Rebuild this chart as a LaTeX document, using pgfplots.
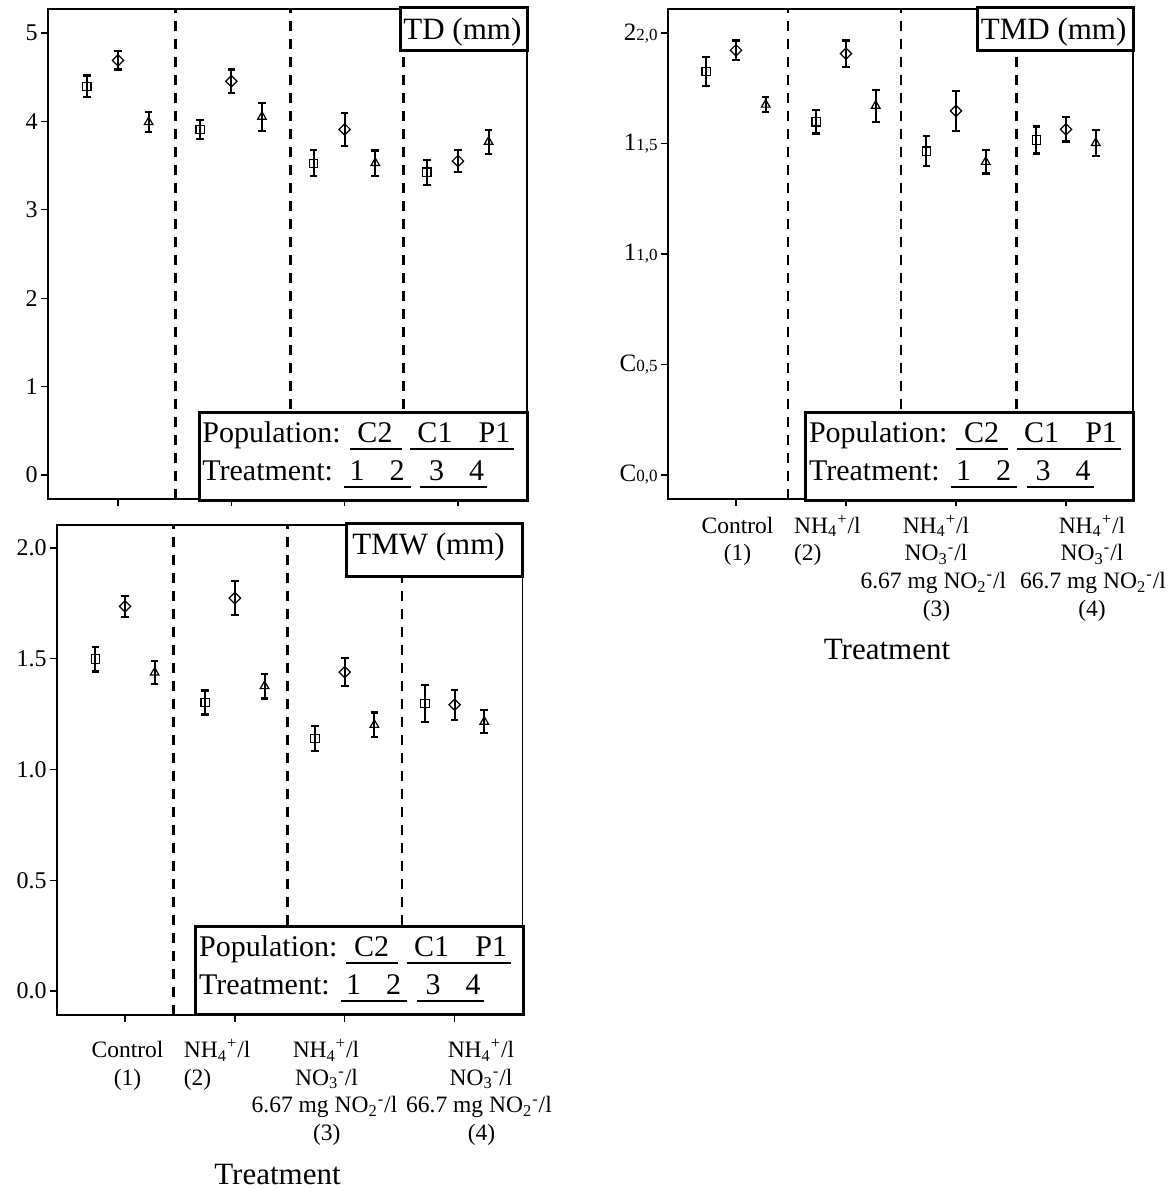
\documentclass[border=0pt]{standalone}
\usepackage{pgfplots}
\pgfplotsset{compat=1.18}
\usepackage{fontspec}
\setmainfont{Liberation Serif}

\newcommand{\chem}[3]{#1\textsubscript{#2}\textsuperscript{#3}}
\newcommand{\legfont}{\fontsize{15}{18}\selectfont}
\newcommand{\titfont}{\fontsize{15.5}{18}\selectfont}
\newcommand{\catfont}{\fontsize{11.75}{13.85}\selectfont}
\newcommand{\tl}[2]{{\fontsize{12.5}{12}\selectfont #1}{\fontsize{8.5}{8.5}\selectfont #2}}

\tikzset{vsep/.style={line width=1.35pt, dash pattern=on 5pt off 4pt}}
\pgfplotsset{
  panel/.style={scale only axis, anchor=south west,
    axis line style={line width=0.7pt},
    every tick/.style={black, line width=0.7pt},
    tick align=outside, tick pos=left, major tick length=3.5pt,
    xtick={1,2,3,4}, xticklabels={},
    yticklabel style={font=\fontsize{12}{12}\selectfont, inner sep=1.5pt}},
  ser/.style={black, only marks, mark options={solid, line width=0.6pt, fill=none, #1},
    error bars/.cd, y dir=both, y explicit,
    error bar style={line width=1pt, black},
    error mark options={rotate=90, line width=1.1pt, mark size=1.9pt, black}},
  ser/.default={},
}

\newcommand{\legbox}[2]{%
  \draw[line width=1.5pt, fill=white] (#1,#2) rectangle ({#1+328},{#2+88});
  \node[anchor=base west, inner sep=0pt, font=\legfont] at ({#1+3},{#2+30}) {Population:};
  \node[anchor=base, inner sep=0pt, font=\legfont] at ({#1+176},{#2+30}) {C2};
  \node[anchor=base, inner sep=0pt, font=\legfont] at ({#1+236},{#2+30}) {C1};
  \node[anchor=base, inner sep=0pt, font=\legfont] at ({#1+295.5},{#2+30}) {P1};
  \node[anchor=base west, inner sep=0pt, font=\legfont] at ({#1+3},{#2+68}) {Treatment:};
  \node[anchor=base, inner sep=0pt, font=\legfont] at ({#1+158},{#2+68}) {1};
  \node[anchor=base, inner sep=0pt, font=\legfont] at ({#1+198},{#2+68}) {2};
  \node[anchor=base, inner sep=0pt, font=\legfont] at ({#1+237.5},{#2+68}) {3};
  \node[anchor=base, inner sep=0pt, font=\legfont] at ({#1+277.5},{#2+68}) {4};
  \draw[line width=1pt] ({#1+150.5},{#2+36.5}) -- ({#1+202.5},{#2+36.5});
  \draw[line width=1pt] ({#1+211},{#2+36.5}) -- ({#1+315},{#2+36.5});
  \draw[line width=1pt] ({#1+145},{#2+74}) -- ({#1+211.5},{#2+74});
  \draw[line width=1pt] ({#1+221},{#2+74}) -- ({#1+288.3},{#2+74});
}

\begin{document}
\begin{tikzpicture}
\useasboundingbox (0,0) rectangle (588pt,594.5pt);

% ---------------- TD ----------------
\begin{axis}[panel, at={(24pt,345pt)}, width=239.5pt, height=245pt,
  xmin=0.382, xmax=4.609, ymin=-0.27, ymax=5.27,
  ytick={0,1,2,3,4,5}, yticklabels={0,1,2,3,4,5}]
\draw[vsep] (axis cs:1.51,-0.27) -- (axis cs:1.51,5.27);
\draw[vsep] (axis cs:2.52,-0.27) -- (axis cs:2.52,5.27);
\draw[vsep] (axis cs:3.52,-0.27) -- (axis cs:3.52,5.27);
\addplot[mark=square, mark size=2.1pt, ser] table[x=x, y=y, y error=e] {
x y e
0.725 4.394 0.123
1.725 3.908 0.104
2.725 3.525 0.147
3.725 3.425 0.142
};
\addplot[mark=square, mark size=2pt, ser={rotate=45}] table[x=x, y=y, y error=e] {
x y e
1 4.689 0.104
2 4.453 0.132
3 3.908 0.183
4 3.551 0.121
};
\addplot[mark=triangle, mark size=2.5pt, ser] table[x=x, y=y, y error=e] {
x y e
1.27 3.991 0.111
2.27 4.051 0.157
3.27 3.528 0.143
4.27 3.768 0.138
};
\end{axis}

% ---------------- TMD ----------------
\begin{axis}[panel, at={(334pt,345pt)}, width=232.5pt, height=245pt,
  xmin=0.382, xmax=4.609, ymin=-0.109, ymax=2.109,
  ytick={0,0.5,1,1.5,2},
  yticklabels={\tl{C}{0,0},\tl{C}{0,5},\tl{1}{1,0},\tl{1}{1,5},\tl{2}{2,0}}]
\draw[vsep] (axis cs:1.473,-0.109) -- (axis cs:1.473,2.109);
\draw[vsep] (axis cs:2.50,-0.109) -- (axis cs:2.50,2.109);
\draw[vsep] (axis cs:3.55,-0.109) -- (axis cs:3.55,2.109);
\addplot[mark=square, mark size=2.1pt, ser] table[x=x, y=y, y error=e] {
x y e
0.73 1.826 0.064
1.73 1.598 0.053
2.73 1.465 0.068
3.73 1.516 0.061
};
\addplot[mark=square, mark size=2pt, ser={rotate=45}] table[x=x, y=y, y error=e] {
x y e
1 1.922 0.044
2 1.907 0.059
3 1.648 0.090
4 1.564 0.055
};
\addplot[mark=triangle, mark size=2.5pt, ser] table[x=x, y=y, y error=e] {
x y e
1.27 1.676 0.033
2.27 1.671 0.072
3.27 1.417 0.053
4.27 1.502 0.059
};
\end{axis}

% ---------------- TMW ----------------
\begin{axis}[panel, at={(28.5pt,87pt)}, width=232.75pt, height=245pt,
  xmin=0.381, xmax=4.618, ymin=-0.108, ymax=2.103,
  ytick={0,0.5,1,1.5,2}, yticklabels={0.0,0.5,1.0,1.5,2.0}]
\draw[vsep] (axis cs:1.44,-0.108) -- (axis cs:1.44,2.103);
\draw[vsep] (axis cs:2.48,-0.108) -- (axis cs:2.48,2.103);
\draw[vsep] (axis cs:3.52,-0.108) -- (axis cs:3.52,2.103);
\addplot[mark=square, mark size=2.1pt, ser] table[x=x, y=y, y error=e] {
x y e
0.73 1.498 0.056
1.73 1.302 0.054
2.73 1.139 0.056
3.73 1.297 0.083
};
\addplot[mark=square, mark size=2pt, ser={rotate=45}] table[x=x, y=y, y error=e] {
x y e
1 1.736 0.047
2 1.773 0.077
3 1.439 0.064
4 1.292 0.068
};
\addplot[mark=triangle, mark size=2.5pt, ser] table[x=x, y=y, y error=e] {
x y e
1.27 1.437 0.053
2.27 1.376 0.056
3.27 1.201 0.056
4.27 1.215 0.052
};
\end{axis}

% ---------------- annotations (pixel coordinates) ----------------
\begin{scope}[x=0.5pt, y=-0.5pt, shift={(0pt,594.5pt)}]
% title boxes
\draw[line width=1.5pt, fill=white] (400,8) rectangle (527,51);
\node[anchor=base west, inner sep=0pt, font=\titfont] at (403,40) {TD (mm)};
\draw[line width=1.5pt, fill=white] (977.5,8) rectangle (1133,51);
\node[anchor=base west, inner sep=0pt, font=\titfont] at (980.5,40) {TMD (mm)};
\draw[line width=1.5pt, fill=white] (346.4,524) rectangle (522.5,576.7);
\node[anchor=base west, inner sep=0pt, font=\titfont] at (352,555) {TMW (mm)};
% legend boxes
\legbox{199}{413}
\legbox{805.6}{413}
\legbox{195.7}{927}
% TMD category labels
\node[anchor=base, inner sep=0pt, font=\catfont] at (737.5,533.3) {Control};
\node[anchor=base, inner sep=0pt, font=\catfont] at (737.5,561) {(1)};
\node[anchor=base west, inner sep=0pt, font=\catfont] at (793.7,533.3) {\chem{NH}{4}{+}/l};
\node[anchor=base west, inner sep=0pt, font=\catfont] at (793.7,561) {(2)};
\node[anchor=base, inner sep=0pt, font=\catfont] at (936,533.3) {\chem{NH}{4}{+}/l};
\node[anchor=base, inner sep=0pt, font=\catfont] at (936,561) {\chem{NO}{3}{-}/l};
\node[anchor=base, inner sep=0pt, font=\catfont] at (933.4,588.7) {6.67 mg \chem{NO}{2}{-}/l};
\node[anchor=base, inner sep=0pt, font=\catfont] at (936.5,616.4) {(3)};
\node[anchor=base, inner sep=0pt, font=\catfont] at (1092,533.3) {\chem{NH}{4}{+}/l};
\node[anchor=base, inner sep=0pt, font=\catfont] at (1092,561) {\chem{NO}{3}{-}/l};
\node[anchor=base, inner sep=0pt, font=\catfont] at (1093,588.7) {66.7 mg \chem{NO}{2}{-}/l};
\node[anchor=base, inner sep=0pt, font=\catfont] at (1092,616.4) {(4)};
\node[anchor=base, inner sep=0pt, font=\titfont] at (887,660) {Treatment};
% TMW category labels
\node[anchor=base, inner sep=0pt, font=\catfont] at (127.5,1057.5) {Control};
\node[anchor=base, inner sep=0pt, font=\catfont] at (127.5,1085.2) {(1)};
\node[anchor=base west, inner sep=0pt, font=\catfont] at (183.5,1057.5) {\chem{NH}{4}{+}/l};
\node[anchor=base west, inner sep=0pt, font=\catfont] at (183.5,1085.2) {(2)};
\node[anchor=base, inner sep=0pt, font=\catfont] at (326,1057.5) {\chem{NH}{4}{+}/l};
\node[anchor=base, inner sep=0pt, font=\catfont] at (326.5,1085.2) {\chem{NO}{3}{-}/l};
\node[anchor=base, inner sep=0pt, font=\catfont] at (324.5,1112.9) {6.67 mg \chem{NO}{2}{-}/l};
\node[anchor=base, inner sep=0pt, font=\catfont] at (326.7,1140.6) {(3)};
\node[anchor=base, inner sep=0pt, font=\catfont] at (481,1057.5) {\chem{NH}{4}{+}/l};
\node[anchor=base, inner sep=0pt, font=\catfont] at (481,1085.2) {\chem{NO}{3}{-}/l};
\node[anchor=base, inner sep=0pt, font=\catfont] at (479,1112.9) {66.7 mg \chem{NO}{2}{-}/l};
\node[anchor=base, inner sep=0pt, font=\catfont] at (481.5,1140.6) {(4)};
\node[anchor=base, inner sep=0pt, font=\titfont] at (277.5,1185) {Treatment};
\end{scope}
\end{tikzpicture}
\end{document}
